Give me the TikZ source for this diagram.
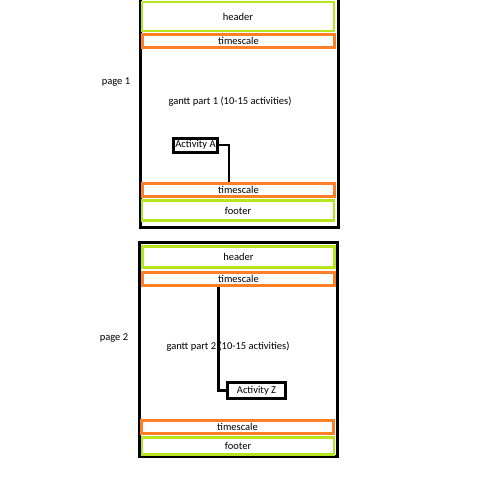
\documentclass[tikz,border=0pt]{standalone}
\usepackage{fontspec}
\setmainfont{Carlito}
\usetikzlibrary{positioning}
\definecolor{limebar}{RGB}{181,230,29}
\definecolor{orangebar}{RGB}{255,127,39}

\begin{document}
\begin{tikzpicture}[
    x=1pt, y=-1pt,
    every node/.style={font=\fontsize{10.5}{12}\selectfont, inner sep=0pt},
    page/.style={draw=black, line width=3.5pt, minimum width=198pt},
    band/.style={draw=limebar, line width=2.8pt, minimum width=192pt},
    tsbar/.style={draw=orangebar, line width=3pt, minimum width=192pt, minimum height=13pt},
    act/.style={draw=black, line width=3pt, fill=white},
    link/.style={line width=2.5pt}
]
    \useasboundingbox (0,0) rectangle (500,491);

    % page 1
    \node (page1) [page, minimum height=229pt] at (239.5,113) {};
    \node (head1) [band, minimum height=29pt] at (238,16.5) {header};
    \node (ts1a) [tsbar] at (238.5,41) {timescale};
    \node (gantt1) at (230,102) {gantt part 1 (10-15 activities)};
    \node (actA) [act, minimum width=44pt, minimum height=14pt] at (195.5,145) {Activity A};
    \node (ts1b) [tsbar] at (238.5,189.5) {timescale};
    \node (foot1) [band, minimum height=20pt] at (238,210.5) {footer};
    \node (lab1) at (116,82) {page 1};

    \draw [link] (actA.east) -| ([xshift=-9.5pt]ts1b.north);

    % page 2
    \node (page2) [page, minimum height=214pt] at (238.5,349.5) {};
    \node (head2) [band, minimum height=21pt] at (238.5,257) {header};
    \node (ts2a) [tsbar] at (238.5,278.5) {timescale};
    \node (gantt2) at (228,347) {gantt part 2 (10-15 activities)};
    \node (actZ) [act, minimum width=58pt, minimum height=16pt] at (256.5,390.5) {Activity Z};
    \node (ts2b) [tsbar] at (237.5,427) {timescale};
    \node (foot2) [band, minimum height=17pt] at (238,446) {footer};
    \node (lab2) at (114,338) {page 2};

    \draw [link] ([xshift=-20pt]ts2a.south) |- (actZ.west);
\end{tikzpicture}
\end{document}
